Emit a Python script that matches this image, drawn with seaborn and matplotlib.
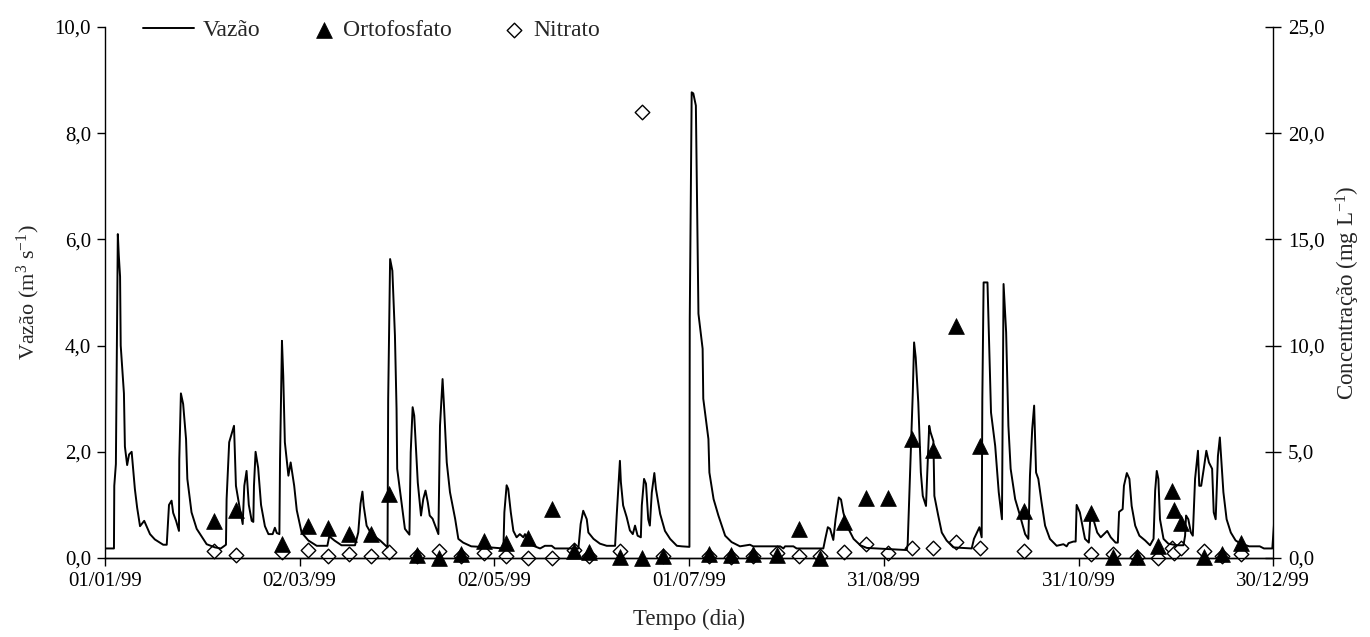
import numpy as np
import pandas as pd
import matplotlib
matplotlib.use('Agg')
import matplotlib.pyplot as plt
from matplotlib.ticker import FuncFormatter
import seaborn as sns

# vazao diaria (dia do ano, m3/s)
flow_day = [0, 2.8, 2.9, 3.4, 4.0, 4.3, 4.7, 4.9, 5.9, 6.2, 6.9, 7.5, 8.3, 9.3, 10.0, 10.9,
            12.2, 14.0, 15.5, 18.1, 19.2, 19.9, 20.7, 21.2, 22.1, 23.0, 23.1, 23.6, 24.3,
            25.2, 25.6, 26.9, 28.5, 31.6, 34.2, 36.0, 37.6, 37.8, 38.6, 40.1, 40.7, 41.7,
            42.8, 43.3, 44.0, 44.7, 45.6, 46.1, 46.3, 46.8, 47.6, 48.5, 49.7, 50.8, 52.1,
            52.8, 53.4, 54.2, 54.4, 55.0, 55.4, 55.9, 57.0, 57.7, 58.8, 59.6, 61.1, 63.2,
            65.8, 69.1, 69.7, 71.3, 73.5, 77.7, 78.7, 79.4, 80.0, 80.4, 81.3, 82.8, 85.5,
            87.8, 88.0, 88.6, 89.3, 90.1, 90.6, 90.8, 92.0, 93.2, 94.6, 95.0, 95.6, 96.1,
            97.2, 98.2, 98.9, 99.6, 100.3, 100.9, 101.8, 103.0, 103.6, 104.1, 104.9, 105.3,
            106.2, 107.2, 108.8, 109.8, 111.3, 113.8, 119.6, 123.8, 124.1, 124.8, 125.3,
            126.1, 126.9, 127.9, 128.9, 130.0, 130.5, 131.5, 133.1, 135.2, 136.7, 138.8,
            139.8, 147.1, 147.8, 148.6, 149.7, 150.2, 151.8, 153.8, 155.9, 158.5, 159.0,
            159.5, 160.0, 160.3, 161.0, 162.1, 163.1, 164.0, 164.7, 165.5, 166.5, 166.8,
            167.5, 168.1, 168.8, 169.3, 169.9, 170.7, 171.2, 172.5, 174.0, 175.6, 177.7,
            179.2, 181.6, 181.7, 182.3, 182.8, 183.6, 184.0, 184.4, 185.7, 185.9, 187.5,
            187.8, 189.1, 190.6, 192.7, 194.7, 197.3, 200.4, 201.4, 209.8, 210.8, 211.3,
            213.9, 214.9, 223.2, 223.8, 224.6, 225.3, 226.3, 227.0, 228.0, 228.7, 229.4,
            230.5, 232.6, 234.7, 236.7, 249.1, 249.4, 251.0, 251.4, 251.9, 252.7, 253.5,
            254.1, 255.1, 255.5, 256.1, 256.5, 257.4, 257.7, 258.9, 260.0, 261.5, 263.6,
            269.3, 270.0, 271.7, 272.4, 272.6, 273.0, 274.2, 275.3, 276.6, 277.7, 278.7,
            279.2, 280.0, 280.7, 281.4, 282.8, 284.3, 285.9, 286.9, 287.4, 288.1, 288.7,
            289.3, 290.0, 291.0, 292.1, 293.6, 295.7, 297.8, 298.8, 299.4, 300.9, 301.6,
            301.9, 302.9, 304.5, 305.7, 306.2, 307.0, 308.3, 309.4, 310.4, 311.4, 312.5,
            314.0, 314.7, 315.1, 316.2, 316.6, 317.5, 318.3, 319.0, 320.1, 321.4, 323.2,
            324.7, 325.8, 326.3, 326.8, 327.3, 327.8, 328.9, 330.4, 333.0, 335.1, 335.6,
            335.9, 336.6, 337.4, 338.0, 338.7, 339.6, 340.0, 340.6, 341.4, 342.2, 343.0,
            344.0, 344.5, 345.1, 345.8, 346.4, 346.9, 347.5, 348.5, 349.8, 351.3, 352.9,
            355.5, 358.8, 360.1, 362.7, 363.2, 363.6]
flow_vazao = [0.18, 0.18, 1.36, 1.77, 6.1, 5.7, 5.3, 4.0, 3.1, 2.1, 1.75, 1.95, 2.0, 1.3, 0.95, 0.6,
              0.7, 0.45, 0.35, 0.25, 0.25, 1.0, 1.08, 0.85, 0.70, 0.51, 1.86, 3.1, 2.9,
              2.24, 1.49, 0.86, 0.55, 0.26, 0.2, 0.18, 0.25, 1.11, 2.18, 2.49, 1.36, 1.0,
              0.64, 1.36, 1.64, 1.0, 0.70, 0.68, 1.36, 2.0, 1.7, 1.0, 0.6, 0.45, 0.45,
              0.57, 0.47, 0.45, 1.86, 4.09, 3.43, 2.18, 1.55, 1.8, 1.36, 0.9, 0.48, 0.33,
              0.23, 0.23, 0.41, 0.33, 0.24, 0.24, 0.48, 1.02, 1.25, 0.98, 0.61, 0.45, 0.33,
              0.2, 2.99, 5.63, 5.41, 4.19, 2.81, 1.68, 1.11, 0.55, 0.44, 1.99, 2.84, 2.68,
              1.42, 0.80, 1.11, 1.27, 1.05, 0.80, 0.74, 0.55, 0.45, 2.49, 3.37, 2.92,
              1.80, 1.24, 0.74, 0.36, 0.29, 0.22, 0.20, 0.18, 0.86, 1.37, 1.30,
              0.86, 0.51, 0.39, 0.45, 0.39, 0.45, 0.33, 0.23, 0.18, 0.23, 0.23,
              0.18, 0.18, 0.64, 0.89, 0.73, 0.48, 0.36, 0.27, 0.23, 0.23, 0.80,
              1.33, 1.83, 1.43, 0.99, 0.77, 0.52, 0.45, 0.61, 0.42, 0.39, 0.99,
              1.49, 1.40, 0.73, 0.61, 1.23, 1.60, 1.30, 0.83, 0.51, 0.36, 0.23,
              0.22, 0.21, 4.5, 8.77, 8.75, 8.52, 6.5, 4.6, 3.94, 3.0, 2.24,
              1.61, 1.11, 0.80, 0.42, 0.30, 0.22, 0.25, 0.22, 0.22, 0.18, 0.22,
              0.22, 0.18, 0.18, 0.36, 0.58, 0.55, 0.34, 0.73, 1.14, 1.1, 0.86,
              0.61, 0.36, 0.24, 0.19, 0.15, 0.25, 3.12, 4.06, 3.78, 2.93, 1.61,
              1.17, 0.98, 1.61, 2.49, 2.37, 2.2, 1.17, 0.80, 0.48, 0.33, 0.20,
              0.18, 0.36, 0.58, 0.39, 2.99, 5.19, 5.19, 2.74, 2.11, 1.24, 0.73,
              5.16, 4.25, 2.49, 1.68, 1.11, 0.80, 0.45, 0.36, 1.55, 2.43, 2.87,
              1.61, 1.49, 1.05, 0.61, 0.36, 0.23, 0.26, 0.22, 0.28, 0.31, 0.31,
              1.0, 0.86, 0.36, 0.29, 0.80, 0.75, 0.48, 0.39, 0.45, 0.51, 0.39,
              0.29, 0.29, 0.87, 0.92, 1.36, 1.60, 1.49, 0.98, 0.61, 0.42, 0.33,
              0.24, 0.36, 1.27, 1.64, 1.49, 0.73, 0.36, 0.27, 0.24, 0.24, 0.42,
              0.80, 0.73, 0.48, 0.42, 1.49, 2.02, 1.36, 1.36, 1.68, 2.02, 1.80,
              1.68, 0.86, 0.73, 1.92, 2.27, 1.80, 1.24, 0.73, 0.48, 0.33, 0.27,
              0.22, 0.22, 0.18, 0.18, 0.61, 1.61]

# amostragens (dia do ano, mg/L)
sample_day = [33.9, 40.7, 55.1, 63.1, 69.2, 75.9, 82.7, 88.4, 96.9, 103.8, 110.5, 117.9,
              124.7, 131.5, 139.0, 145.8, 150.5, 160.0, 166.8, 173.5, 187.8, 194.5, 201.3,
              208.7, 215.5, 222.2, 229.7, 236.5, 243.2, 250.9, 257.4, 264.3, 271.9, 285.4,
              306.4, 313.1, 320.6, 327.3, 331.6, 332.2, 334.4, 341.5, 347.0, 353.0]
ortofosfato = [1.76, 2.28, 0.66, 1.52, 1.41, 1.13, 1.13, 3.01, 0.16, 0.0, 0.19, 0.82,
               0.69, 0.93, 2.31, 0.35, 0.27, 0.03, 0.0, 0.08, 0.19, 0.16, 0.19,
               0.16, 1.37, 0.0, 1.71, 2.81, 2.81, 5.60, 5.08, 10.94, 5.29, 2.23,
               2.12, 0.05, 0.05, 0.55, 3.14, 2.28, 1.65, 0.05, 0.19, 0.71]
nitrato = [0.35, 0.16, 0.27, 0.39, 0.08, 0.17, 0.08, 0.27, 0.10, 0.31, 0.10, 0.25,
           0.09, 0.0, 0.0, 0.39, 0.11, 0.31, 21.0, 0.08, 0.10, 0.03, 0.10,
           0.23, 0.08, 0.08, 0.27, 0.66, 0.23, 0.47, 0.47, 0.74, 0.47, 0.35,
           0.19, 0.19, 0.05, 0.0, 0.47, 0.23, 0.47, 0.31, 0.10, 0.19]

tick_days = [0, 60.5, 121, 181.5, 242, 302.5, 363]
tick_labels = ['01/01/99', '02/03/99', '02/05/99', '01/07/99', '31/08/99', '31/10/99', '30/12/99']

df_flow = pd.DataFrame({'dia': flow_day, 'vazao': flow_vazao})
df_samp = pd.DataFrame({'dia': sample_day, 'orto': ortofosfato, 'nitrato': nitrato})

sns.set_style('ticks')
plt.rcParams['font.family'] = ['Liberation Serif', 'DejaVu Serif']
plt.rcParams['mathtext.fontset'] = 'custom'
plt.rcParams['mathtext.rm'] = 'Liberation Serif'
plt.rcParams['mathtext.it'] = 'Liberation Serif:italic'
plt.rcParams['font.size'] = 15

fig, ax = plt.subplots(figsize=(13.7, 6.37), dpi=100)
fig.subplots_adjust(left=0.0766, right=0.9294, top=0.9576, bottom=0.124)
ax2 = ax.twinx()

sns.scatterplot(x='dia', y='nitrato', data=df_samp, ax=ax2, marker='D', s=55,
                facecolor='white', edgecolor='black', linewidth=1.0, clip_on=False,
                zorder=3, label='Nitrato')
sns.scatterplot(x='dia', y='orto', data=df_samp, ax=ax2, marker='^', s=130,
                color='black', edgecolor='black', linewidth=0.5, clip_on=False,
                zorder=4, label='Ortofosfato')
sns.lineplot(x='dia', y='vazao', data=df_flow, ax=ax, color='black', lw=1.4,
             estimator=None, sort=False, label='Vazão')

# linha acima dos marcadores
ax.set_zorder(ax2.get_zorder() + 1)
ax.patch.set_visible(False)

fmt = FuncFormatter(lambda v, p: f'{v:.1f}'.replace('.', ','))
ax.set_xlim(0, 363)
ax.set_ylim(0, 10)
ax.set_yticks(np.arange(0, 10.1, 2))
ax.yaxis.set_major_formatter(fmt)
ax2.set_ylim(0, 25)
ax2.set_yticks(np.arange(0, 25.1, 5))
ax2.yaxis.set_major_formatter(fmt)
ax.set_xticks(tick_days)
ax.set_xticklabels(tick_labels)

for a in (ax, ax2):
    a.spines['top'].set_visible(False)
    for s in a.spines.values():
        s.set_linewidth(1.0)
        s.set_color('black')
ax.spines['right'].set_visible(False)
ax2.spines['left'].set_visible(False)

ax.tick_params(axis='y', direction='out', length=6, width=1, pad=4, labelsize=15, colors='black')
ax.tick_params(axis='x', direction='out', length=6, width=1, pad=4, labelsize=15, colors='black')
ax2.tick_params(axis='y', direction='inout', length=11, width=1, pad=5, labelsize=15, colors='black')

ax.set_xlabel('Tempo (dia)', fontsize=16.5, labelpad=13)
ax.set_ylabel('Vazão (m$^{3}$ s$^{-1}$)', fontsize=16, labelpad=9)
ax2.set_ylabel('Concentração (mg L$^{-1}$)', fontsize=16.5, labelpad=7)

# legenda em linha no topo
if ax2.get_legend():
    ax2.get_legend().remove()
if ax.get_legend():
    ax.get_legend().remove()
h_line, l_line = ax.get_legend_handles_labels()
h_pts, l_pts = ax2.get_legend_handles_labels()
h_pts = [h_pts[1], h_pts[0]]
l_pts = [l_pts[1], l_pts[0]]

leg1 = ax.legend(h_line, l_line, loc='center left', frameon=False, handlelength=2.16,
                 handletextpad=0.38, borderpad=0, borderaxespad=0,
                 bbox_to_anchor=(143 / 1370, 1 - 30 / 637), bbox_transform=fig.transFigure,
                 fontsize=17)
ax.add_artist(leg1)
leg2 = ax.legend(h_pts, l_pts, loc='center left', frameon=False, handlelength=1.0,
                 handletextpad=0.3, borderpad=0, borderaxespad=0, ncol=2, columnspacing=2.16,
                 bbox_to_anchor=(312 / 1370, 1 - 30 / 637), bbox_transform=fig.transFigure,
                 fontsize=17)

fig.savefig('out.png', dpi=100)
